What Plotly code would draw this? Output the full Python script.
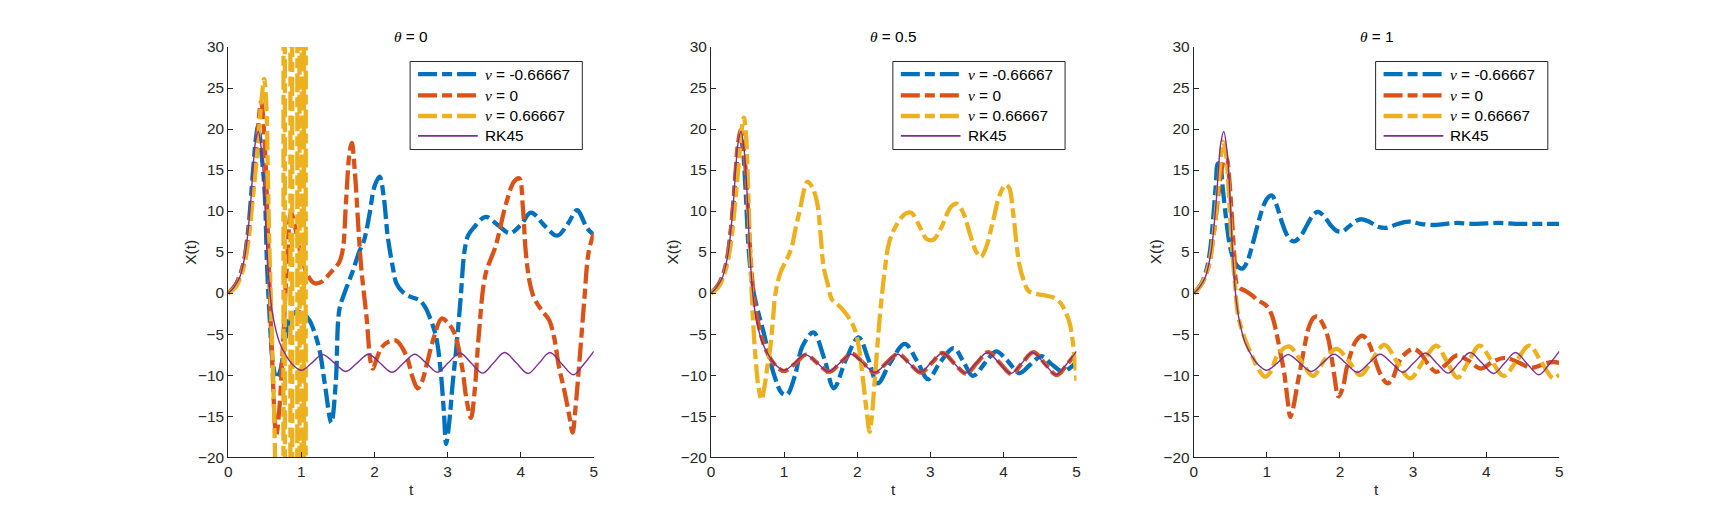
import plotly.graph_objects as go

# RK45 reference solution (same in all three panels)
t_rk45 = [0, 0.05, 0.1, 0.16, 0.2, 0.24, 0.27, 0.31, 0.34, 0.37, 0.41, 0.455, 0.5, 0.525, 0.55, 0.58,
          0.62, 0.7, 0.79, 0.88, 1.0, 1.145, 1.29, 1.45, 1.61, 1.765, 1.92, 2.08, 2.24, 2.395, 2.55,
          2.71, 2.86, 3.01, 3.17, 3.325, 3.48, 3.63, 3.78, 3.94, 4.1, 4.25, 4.4, 4.56, 4.72, 4.86, 5.0]
x_rk45 = [0, 0.4, 1.0, 2.0, 3.3, 5.2, 7.5, 11.5, 15.4, 18.3, 19.7, 17.3, 11.0, 6.0, 2.3, -0.8,
          -3.2, -6.0, -7.6, -8.7, -9.4, -8.5, -7.5, -8.5, -9.55, -8.5, -7.45, -8.55, -9.65, -8.55, -7.45,
          -8.55, -9.65, -8.5, -7.3, -8.55, -9.75, -8.5, -7.25, -8.5, -9.8, -8.55, -7.25, -8.6, -9.95, -8.7, -7.1]

# theta = 0
t_0_neg = [0, 0.1, 0.2, 0.27, 0.34, 0.38, 0.41, 0.45, 0.5, 0.53, 0.57, 0.61, 0.66, 0.71, 0.76, 0.84,
           0.92, 0.98, 1.05, 1.11, 1.18, 1.25, 1.32, 1.41, 1.47, 1.52, 1.59, 1.7, 1.79, 1.86, 1.93, 2.0,
           2.07, 2.13, 2.18, 2.25, 2.3, 2.38, 2.48, 2.62, 2.7, 2.75, 2.84, 2.9, 2.95, 2.98, 3.02, 3.07,
           3.12, 3.18, 3.23, 3.28, 3.36, 3.52, 3.7, 3.85, 4.0, 4.14, 4.34, 4.5, 4.65, 4.77, 4.91, 5.0]
x_0_neg = [0, 1.0, 3.3, 7.5, 15.0, 19.0, 20.4, 17.5, 12.0, 3.5, -3.5, -8.5, -10.4, -9.5, -7.0, -3.2,
           -2.3, -2.3, -2.7, -3.3, -4.8, -7.0, -11.0, -15.8, -11.0, -2.0, 0.0, 2.6, 5.0, 6.5, 9.5, 13.0,
           14.2, 11.5, 7.0, 3.2, 1.2, 0.2, -0.4, -0.9, -1.8, -2.8, -5.2, -9.0, -14.5, -18.4, -16.0, -11.0,
           -6.7, -0.5, 5.0, 7.0, 8.0, 9.3, 8.2, 7.3, 8.3, 9.8, 8.1, 7.0, 8.5, 10.1, 7.9, 7.1]

t_0_zero = [0, 0.1, 0.2, 0.3, 0.38, 0.45, 0.5, 0.55, 0.6, 0.656, 0.7, 0.75, 0.8, 0.86, 0.92, 1.0,
            1.08, 1.18, 1.28, 1.4, 1.52, 1.57, 1.61, 1.66, 1.69, 1.73, 1.78, 1.82, 1.89, 1.95, 1.98,
            2.03, 2.1, 2.2, 2.3, 2.43, 2.53, 2.59, 2.65, 2.72, 2.82, 2.92, 3.02, 3.1, 3.2, 3.26, 3.32,
            3.37, 3.43, 3.52, 3.66, 3.8, 3.91, 3.98, 4.03, 4.07, 4.12, 4.18, 4.28, 4.39, 4.46, 4.52,
            4.6, 4.66, 4.71, 4.75, 4.8, 4.87, 4.93, 5.0]
x_0_zero = [0, 1.0, 3.3, 9.0, 17.0, 23.3, 18.0, 5.0, -8.0, -17.3, -14.0, -6.0, 3.0, 9.8, 7.8, 4.5,
            2.3, 1.2, 1.4, 2.5, 3.8, 5.5, 11.0, 17.2, 18.3, 15.0, 8.0, 3.0, -2.8, -8.5, -9.2,
            -8.0, -6.6, -5.9, -5.8, -7.5, -10.5, -11.6, -10.8, -8.5, -5.2, -3.1, -3.8, -5.0, -9.1, -13.0, -15.2,
            -12.0, -4.8, 2.3, 5.8, 10.9, 13.6, 14.0, 10.5, 5.0, 1.5, -0.5, -2.0, -3.3, -5.5, -8.8,
            -12.0, -14.7, -17.0, -14.0, -8.8, -0.9, 5.0, 7.3]

t_0_pos = [0, 0.1, 0.2, 0.27, 0.33, 0.39, 0.45, 0.49, 0.52, 0.545, 0.57, 0.6, 0.62, 0.64, 0.66]
x_0_pos = [0, 0.7, 2.8, 6.0, 11.0, 16.5, 23.0, 26.1, 23.0, 13.0, 3.0, -6.0, -12.0, -20.0, -40.0]
# unstable blow-up of the nu = 0.66667 run (swings far past the axis limits)
t_0_pos_burst = [0.66, 0.75, 0.76, 0.77, 0.78, 0.845, 0.855, 0.87, 0.88, 0.94, 0.95,
                 0.97, 0.98, 1.0, 1.01, 1.03, 1.04, 1.055, 1.065]
x_0_pos_burst = [-40, -300, 300, 300, -300, -300, 300, 300, -300, -300, 300,
                 300, -300, -300, 300, 300, -300, -300, 300]

# theta = 0.5
t_05_neg = [0, 0.1, 0.2, 0.27, 0.33, 0.37, 0.4, 0.43, 0.47, 0.51, 0.55, 0.585, 0.65, 0.72, 0.86,
            0.97, 1.04, 1.15, 1.25, 1.4, 1.55, 1.68, 1.85, 2.02, 2.15, 2.28, 2.45, 2.65, 2.82, 2.97,
            3.13, 3.32, 3.45, 3.58, 3.75, 3.9, 4.05, 4.22, 4.37, 4.52, 4.65, 4.8, 4.9, 5.0]
x_05_neg = [0, 1.0, 3.3, 7.5, 13.5, 17.5, 19.0, 18.0, 13.0, 6.0, 2.0, 0.0, -2.5, -4.8, -9.9,
            -12.2, -12.4, -10.0, -6.5, -4.8, -8.0, -11.6, -8.0, -5.4, -8.0, -11.0, -8.5, -6.2, -8.3, -10.5,
            -8.5, -6.7, -8.3, -10.1, -8.5, -7.1, -8.2, -9.75, -8.7, -7.7, -8.6, -9.55, -9.2, -8.4]

t_05_zero = [0, 0.05, 0.1, 0.16, 0.2, 0.24, 0.27, 0.31, 0.34, 0.37, 0.41, 0.45, 0.5, 0.53, 0.56, 0.6,
             0.66, 0.72, 0.8, 0.9, 1.0, 1.15, 1.3, 1.45, 1.62, 1.77, 1.93, 2.08, 2.24, 2.4, 2.56, 2.72,
             2.87, 3.02, 3.17, 3.33, 3.49, 3.64, 3.79, 3.95, 4.11, 4.26, 4.41, 4.57, 4.73, 4.87, 5.0]
x_05_zero = [0, 0.4, 1.0, 2.0, 3.3, 5.2, 7.5, 11.5, 15.2, 18.3, 19.9, 17.5, 11.2, 6.0, 2.0, -1.5,
             -4.2, -6.2, -7.8, -9.0, -9.5, -8.6, -7.5, -8.5, -9.6, -8.5, -7.4, -8.5, -9.7, -8.5, -7.4, -8.6,
             -9.7, -8.5, -7.3, -8.6, -9.8, -8.5, -7.2, -8.5, -9.85, -8.5, -7.2, -8.6, -10.0, -8.7, -7.2]

t_05_pos = [0, 0.1, 0.2, 0.27, 0.33, 0.38, 0.42, 0.45, 0.48, 0.51, 0.54, 0.57, 0.61, 0.65, 0.69, 0.73,
            0.77, 0.81, 0.85, 0.88, 0.95, 1.04, 1.1, 1.16, 1.22, 1.28, 1.32, 1.38, 1.45, 1.5, 1.54, 1.6,
            1.65, 1.72, 1.81, 1.9, 1.97, 2.03, 2.08, 2.13, 2.17, 2.2, 2.24, 2.31, 2.38, 2.44, 2.55, 2.66,
            2.74, 2.85, 2.95, 3.04, 3.15, 3.28, 3.36, 3.45, 3.55, 3.63, 3.69, 3.76, 3.85, 3.95, 4.03,
            4.08, 4.13, 4.18, 4.22, 4.28, 4.34, 4.45, 4.58, 4.7, 4.79, 4.86, 4.91, 4.95, 4.98, 5.0]
x_05_pos = [0, 0.7, 2.8, 6.0, 11.0, 16.0, 20.0, 21.4, 19.0, 12.0, 4.0, -2.5, -8.0, -11.5, -13.0, -11.5,
            -9.0, -6.7, -3.0, -0.1, 2.5, 4.2, 5.5, 8.0, 10.3, 12.8, 13.6, 13.0, 11.1, 7.0, 3.2, 1.0,
            -0.7, -1.3, -2.1, -3.2, -4.5, -7.0, -10.6, -14.5, -16.9, -15.0, -10.6, -2.8, 3.0, 6.3, 8.5, 9.7,
            9.8, 8.2, 6.6, 6.5, 8.0, 10.5, 10.9, 9.8, 7.0, 5.0, 4.4, 5.5, 8.5, 12.0, 13.2,
            12.8, 10.0, 6.0, 3.4, 1.5, 0.3, -0.1, -0.3, -0.6, -1.3, -2.5, -3.8, -6.0, -8.5, -10.7]

# theta = 1
t_1_neg = [0, 0.1, 0.17, 0.22, 0.26, 0.3, 0.33, 0.36, 0.4, 0.45, 0.5, 0.56, 0.62, 0.67, 0.73, 0.8,
           0.88, 0.96, 1.02, 1.07, 1.13, 1.2, 1.28, 1.36, 1.45, 1.55, 1.63, 1.7, 1.78, 1.87, 1.95, 2.03,
           2.12, 2.22, 2.3, 2.4, 2.52, 2.63, 2.75, 2.88, 2.97, 3.1, 3.28, 3.45, 3.6, 3.8, 4.0, 4.2,
           4.4, 4.6, 4.8, 5.0]
x_1_neg = [0, 1.1, 2.7, 5.0, 8.5, 13.0, 15.8, 15.5, 12.5, 8.5, 5.5, 3.8, 3.1, 3.0, 3.8, 5.8,
           8.5, 10.8, 11.7, 11.9, 10.8, 8.8, 7.0, 6.3, 6.8, 8.3, 9.5, 9.9, 9.4, 8.3, 7.6, 7.5,
           8.1, 8.8, 9.0, 8.7, 8.1, 7.95, 8.3, 8.65, 8.7, 8.45, 8.3, 8.45, 8.55, 8.45, 8.5, 8.55,
           8.45, 8.45, 8.45, 8.45]

t_1_zero = [0, 0.1, 0.2, 0.27, 0.33, 0.38, 0.42, 0.45, 0.48, 0.52, 0.555, 0.585, 0.63, 0.7, 0.8,
            0.88, 0.96, 1.02, 1.08, 1.13, 1.19, 1.24, 1.29, 1.32, 1.36, 1.42, 1.47, 1.53, 1.58, 1.64,
            1.69, 1.75, 1.83, 1.88, 1.92, 1.98, 2.04, 2.09, 2.13, 2.22, 2.31, 2.39, 2.47, 2.56, 2.65,
            2.72, 2.8, 2.88, 3.0, 3.1, 3.2, 3.32, 3.45, 3.6, 3.75, 3.93, 4.1, 4.27, 4.45, 4.62, 4.8,
            4.92, 5.0]
x_1_zero = [0, 1.0, 3.2, 7.0, 11.5, 15.0, 16.3, 16.4, 14.5, 9.5, 4.5, 1.2, 0.6, 0.3, -0.3,
            -0.9, -1.3, -1.8, -3.0, -4.8, -7.5, -9.9, -13.5, -15.1, -14.0, -11.0, -8.7, -5.8, -4.0, -3.0,
            -2.85, -3.5, -5.2, -7.5, -9.9, -12.6, -11.5, -9.2, -7.9, -5.8, -5.2, -6.0, -7.9, -10.0, -11.0,
            -10.4, -8.5, -7.5, -6.8, -7.3, -8.6, -9.6, -8.7, -7.6, -8.2, -9.2, -8.3, -7.9, -8.5, -9.1, -8.6,
            -8.4, -8.5]

t_1_pos = [0, 0.1, 0.2, 0.27, 0.32, 0.36, 0.4, 0.44, 0.48, 0.52, 0.56, 0.61, 0.7, 0.79, 0.9, 0.98,
           1.05, 1.15, 1.3, 1.47, 1.63, 1.8, 1.955, 2.12, 2.28, 2.45, 2.61, 2.79, 2.96, 3.14, 3.32,
           3.46, 3.61, 3.76, 3.91, 4.07, 4.24, 4.42, 4.59, 4.76, 4.92, 5.0]
x_1_pos = [0, 1.0, 3.2, 7.0, 11.5, 15.5, 18.5, 17.0, 12.0, 6.0, 1.5, -2.85, -5.6, -7.5, -9.5, -10.2,
           -9.6, -7.5, -6.5, -8.3, -10.1, -8.0, -6.8, -8.3, -10.0, -8.0, -6.3, -8.5, -10.4, -8.3, -6.4,
           -8.3, -10.3, -8.3, -6.4, -8.2, -10.1, -8.2, -6.4, -8.5, -10.4, -9.9]

titles = ['0', '0.5', '1']
nu_labels = ['-0.66667', '0', '0.66667']

W, H = 1728, 520
AX_LEFT = [225.3, 710.3, 1195.3]
AX_WIDTH = 367.2
AX_TOP, AX_BOTTOM = 39.3, 463.3

BLUE, ORANGE, YELLOW, PURPLE = '#0072BD', '#D95319', '#EDB120', '#7E2F8E'
INK = '#262626'
DASHDOT = '19px,5px,10px,5px'
SANS = 'Liberation Sans'
FS = 15.4
NU = '<span style="font-family:Liberation Serif"><i>ν</i></span> = '


def px(x, y):
    # pixel position on the page -> paper coordinates
    return x / W, 1 - y / H


def add_panel(fig, idx, series, bursts=()):
    ax = '' if idx == 0 else str(idx + 1)
    colors = [BLUE, ORANGE, YELLOW]
    for (t, x), col, lab in zip(series, colors, nu_labels):
        fig.add_trace(go.Scatter(
            x=t, y=x, mode='lines', name=NU + lab, showlegend=False,
            line=dict(color=col, width=4.3, dash=DASHDOT, shape='spline'),
            xaxis='x' + ax, yaxis='y' + ax, hoverinfo='skip',
        ))
        if lab == nu_labels[2]:
            for bt, bx in bursts:
                fig.add_trace(go.Scatter(
                    x=bt, y=bx, mode='lines', showlegend=False,
                    line=dict(color=col, width=4.3, dash=DASHDOT),
                    xaxis='x' + ax, yaxis='y' + ax, hoverinfo='skip',
                ))
    fig.add_trace(go.Scatter(
        x=t_rk45, y=x_rk45, mode='lines', name='RK45', showlegend=False,
        line=dict(color=PURPLE, width=1.4, shape='spline'),
        xaxis='x' + ax, yaxis='y' + ax, hoverinfo='skip',
    ))


def legend_box(left):
    # matlab style boxed legend, 'northeast' of each axes
    shapes, notes = [], []
    x0, y0 = px(left, 54.3)
    x1, y1 = px(left + 173, 145.3)
    shapes.append(dict(type='rect', xref='paper', yref='paper', x0=x0, x1=x1, y0=y0, y1=y1,
                       fillcolor='white', line=dict(color=INK, width=1), layer='above'))
    rows = [67.3, 89.2, 110.6, 131.2]
    entries = [(BLUE, 4.3, DASHDOT, NU + nu_labels[0]),
               (ORANGE, 4.3, DASHDOT, NU + nu_labels[1]),
               (YELLOW, 4.3, DASHDOT, NU + nu_labels[2]),
               (PURPLE, 1.6, 'solid', 'RK45')]
    for ry, (col, lw, dash, text) in zip(rows, entries):
        a, b = px(left + 8, ry)
        c, _ = px(left + 68, ry)
        shapes.append(dict(type='line', xref='paper', yref='paper', x0=a, x1=c, y0=b, y1=b,
                           line=dict(color=col, width=lw, dash=dash), layer='above'))
        tx, ty = px(left + 73, ry)
        notes.append(dict(text=text, x=tx, y=ty, xref='paper', yref='paper', showarrow=False,
                          xanchor='left', yanchor='middle',
                          font=dict(family=SANS, size=FS, color='black')))
    return shapes, notes


def axis_style(domain, rng, dtick):
    return dict(
        domain=domain, range=rng, dtick=dtick, showgrid=False, zeroline=False,
        showline=True, linecolor=INK, linewidth=1, mirror=False,
        ticks='inside', ticklen=5, tickcolor=INK, tickwidth=1,
        tickfont=dict(family=SANS, size=FS, color=INK),
    )


def main():
    fig = go.Figure()
    add_panel(fig, 0, [(t_0_neg, x_0_neg), (t_0_zero, x_0_zero), (t_0_pos, x_0_pos)],
              bursts=[(t_0_pos_burst, x_0_pos_burst)])
    add_panel(fig, 1, [(t_05_neg, x_05_neg), (t_05_zero, x_05_zero), (t_05_pos, x_05_pos)])
    add_panel(fig, 2, [(t_1_neg, x_1_neg), (t_1_zero, x_1_zero), (t_1_pos, x_1_pos)])

    ydom = [1 - AX_BOTTOM / H, 1 - AX_TOP / H]
    layout = dict(
        width=W, height=H, margin=dict(l=0, r=0, t=0, b=0),
        paper_bgcolor='white', plot_bgcolor='white', showlegend=False,
        font=dict(family=SANS, size=FS, color=INK),
    )
    annotations, shapes = [], []
    for i in range(3):
        ax = '' if i == 0 else str(i + 1)
        x0 = AX_LEFT[i] / W
        x1 = (AX_LEFT[i] + AX_WIDTH) / W
        xa = axis_style([x0, x1], [0, 5], 1)
        xa['anchor'] = 'y' + ax
        ya = axis_style(ydom, [-20, 30], 5)
        ya['anchor'] = 'x' + ax
        layout['xaxis' + ax] = xa
        layout['yaxis' + ax] = ya

        s, n = legend_box(AX_LEFT[i] + AX_WIDTH - 11.5 - 173)
        shapes += s
        annotations += n

        xc = (x0 + x1) / 2
        annotations.append(dict(
            text='<span style="font-family:Liberation Serif"><i>θ</i></span> = ' + titles[i],
            x=xc, y=1 - 28 / H, xref='paper', yref='paper', showarrow=False,
            xanchor='center', yanchor='middle', font=dict(family=SANS, size=FS, color='black'),
        ))
        annotations.append(dict(
            text='t', x=xc, y=1 - 497 / H, xref='paper', yref='paper', showarrow=False,
            xanchor='center', yanchor='middle', font=dict(family=SANS, size=FS, color=INK),
        ))
        annotations.append(dict(
            text='X(t)', x=(AX_LEFT[i] - 38.8) / W, y=sum(ydom) / 2, xref='paper', yref='paper',
            showarrow=False, textangle=-90, xanchor='center', yanchor='middle',
            font=dict(family=SANS, size=FS, color=INK),
        ))
    layout['annotations'] = annotations
    layout['shapes'] = shapes
    fig.update_layout(**layout)

    # page body margin would push the figure off its pixel grid
    fig.write_html('out.html', config={'displayModeBar': False},
                   post_script="document.body.style.margin='0';")


if __name__ == '__main__':
    main()
